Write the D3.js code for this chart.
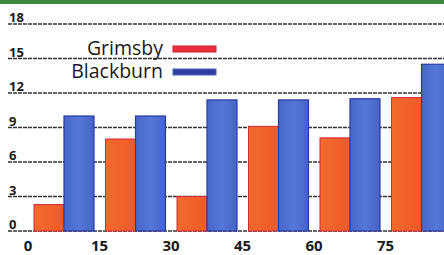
<!DOCTYPE html>
<html><head><meta charset="utf-8">
<script src="https://cdn.jsdelivr.net/npm/d3@7"></script>
<style>html,body{margin:0;padding:0;background:#fff;overflow:hidden}</style>
</head><body>
<script>
const categories = [0, 15, 30, 45, 60, 75];
const xTickLabels = [0, 15, 30, 45, 60, 75, 90];
const grimsby = [2.3, 8.0, 3.0, 9.1, 8.1, 11.6];
const blackburn = [10.0, 10.0, 11.4, 11.4, 11.5, 14.5];
const yTicks = [0, 3, 6, 9, 12, 15, 18];
const seriesNames = ["Grimsby", "Blackburn"];

const W = 444, H = 255;
const svg = d3.select("body").append("svg").attr("width", W).attr("height", H);

const defs = svg.append("defs");
const go = defs.append("linearGradient").attr("id","go").attr("x1",0).attr("x2",1);
go.append("stop").attr("offset","0").attr("stop-color","#f26a2c");
go.append("stop").attr("offset","1").attr("stop-color","#f05a28");
const gb = defs.append("linearGradient").attr("id","gb").attr("x1",0).attr("x2",1);
gb.append("stop").attr("offset","0").attr("stop-color","#4766cc");
gb.append("stop").attr("offset","0.5").attr("stop-color","#5577d6");
gb.append("stop").attr("offset","1").attr("stop-color","#4563c8");

// green top strip
svg.append("rect").attr("x",0).attr("y",0).attr("width",W).attr("height",4).attr("fill","#3f8a3c");

const x = d3.scaleLinear().domain([0, 90]).range([28, 457]);
const y = d3.scaleLinear().domain([0, 18]).range([231, 24]);
const barW = 30, off = 6;

// gridlines
svg.append("g").selectAll("line").data(yTicks).join("line")
  .attr("x1", 8).attr("x2", W)
  .attr("y1", d => y(d)).attr("y2", d => y(d))
  .attr("stroke", "#333").attr("stroke-width", 1.5)
  .attr("stroke-dasharray", "4,1");

// y labels
svg.append("g").selectAll("text").data(yTicks).join("text")
  .attr("x", 9).attr("y", d => y(d) - 2)
  .attr("font-family", "Open Sans, sans-serif").attr("font-weight", "bold")
  .attr("font-size", 13).attr("fill", "#1a1a1a")
  .text(d => d);

// bars
const bars = svg.append("g");
bars.selectAll("rect.g").data(grimsby).join("rect").attr("class","g")
  .attr("x", (d,i) => x(categories[i]) + off)
  .attr("y", d => y(d)).attr("width", barW).attr("height", d => y(0) - y(d))
  .attr("fill", "url(#go)").attr("stroke", "#d6283a").attr("stroke-width", 1);
bars.selectAll("rect.b").data(blackburn).join("rect").attr("class","b")
  .attr("x", (d,i) => x(categories[i]) + off + barW)
  .attr("y", d => y(d)).attr("width", barW).attr("height", d => y(0) - y(d))
  .attr("fill", "url(#gb)").attr("stroke", "#2a3aa6").attr("stroke-width", 1.2);

// x labels
svg.append("g").selectAll("text").data(xTickLabels).join("text")
  .attr("x", d => x(d)).attr("y", 251)
  .attr("text-anchor", "middle")
  .attr("font-family", "Open Sans, sans-serif").attr("font-weight", "bold")
  .attr("font-size", 15).attr("fill", "#1a1a1a")
  .text(d => d);

// legend
const legColors = [["#ea2e3a","#c8202c"],["#2e3f9e","#4c64c4"]];
const leg = svg.append("g");
seriesNames.forEach((name, i) => {
  const by = 55 + i * 23;
  leg.append("text").attr("x", 163).attr("y", by).attr("text-anchor","end")
    .attr("font-family","Open Sans, sans-serif").attr("font-size",19.5).attr("fill","#1a1a1a")
    .text(name);
  leg.append("rect").attr("x",173).attr("y", by - 9).attr("width",43).attr("height",6)
    .attr("fill", legColors[i][0]).attr("stroke", legColors[i][1]).attr("stroke-width",1);
});
</script>
</body></html>
